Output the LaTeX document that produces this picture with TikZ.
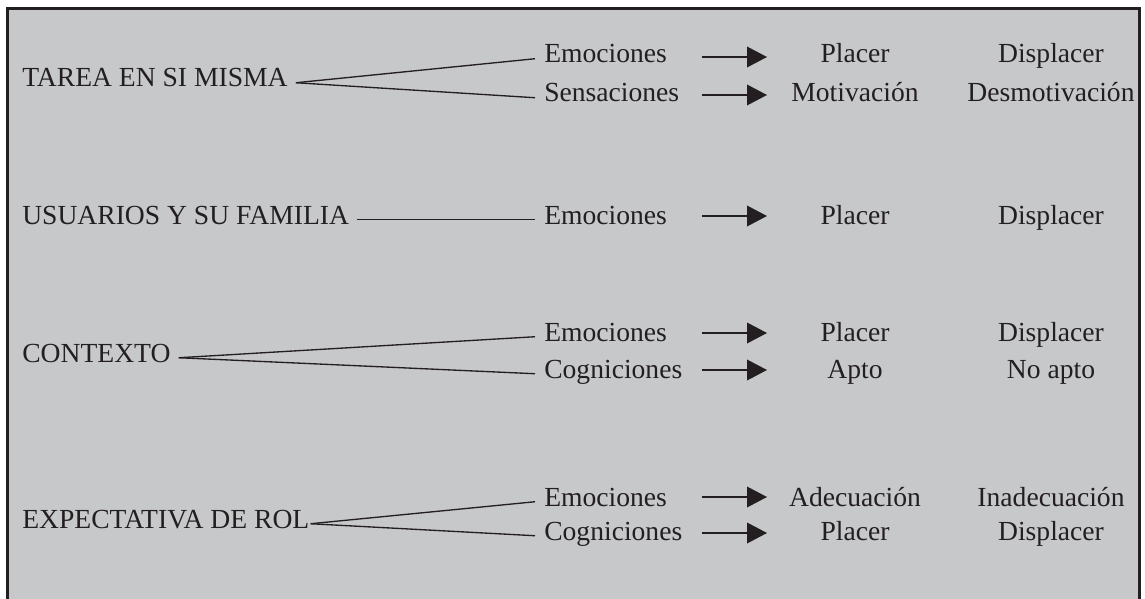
\documentclass[tikz,border=0pt]{standalone}
\usepackage{fontspec}
\setmainfont{Liberation Serif}
\usetikzlibrary{arrows.meta}
\definecolor{ink}{HTML}{231F20}
\definecolor{panel}{RGB}{199,200,202}
\begin{document}
\begin{tikzpicture}[x=0.75pt,y=-0.75pt,
  every node/.style={inner sep=0pt, text=ink, font=\fontsize{20.7}{24}\selectfont, text height=0.64em, text depth=0pt},
  lefttxt/.style={anchor=base west, inner xsep=6pt},
  midtxt/.style={anchor=base west, inner xsep=6.75pt},
  coltxt/.style={anchor=base},
  fan/.style={draw=ink, line width=1pt},
  arr/.style={draw=ink, line width=1.1pt, -{Triangle[length=15pt,width=15.5pt]}}
]
\useasboundingbox (0,0) rectangle (1145,599);
\fill[white] (0,0) rectangle (1145,599);
\fill[panel] (7,9) rectangle (1139,599);
\draw[ink, line width=2.25pt] (7,599) -- (7,9) -- (1139,9) -- (1139,599);

% Row 1
\node[lefttxt] (tarea) at (14,87) {TAREA EN SI MISMA};
\node[midtxt] (emo1) at (535,63) {Emociones};
\node[midtxt] (sen1) at (535,102) {Sensaciones};
\node[coltxt] (pla1) at (855,63) {Placer};
\node[coltxt] (dis1) at (1051,63) {Displacer};
\node[coltxt] (mot1) at (855,102) {Motivación};
\node[coltxt] (des1) at (1051,102) {Desmotivación};
\draw[fan] (tarea.east) -- (emo1.west);
\draw[fan] (tarea.east) -- (sen1.west);
\coordinate (s1a) at (702,57); \coordinate (e1a) at (767,57);
\coordinate (s1b) at (702,95); \coordinate (e1b) at (767,95);
\draw[arr] (s1a) -- (e1a);
\draw[arr] (s1b) -- (e1b);

% Row 2
\node[lefttxt] (usu) at (14,224) {USUARIOS Y SU FAMILIA};
\node[midtxt] (emo2) at (535,224) {Emociones};
\node[coltxt] (pla2) at (855,224) {Placer};
\node[coltxt] (dis2) at (1051,224) {Displacer};
\draw[fan] (usu.east) -- (emo2.west);
\coordinate (s2) at (702,216); \coordinate (e2) at (767,216);
\draw[arr] (s2) -- (e2);

% Row 3
\node[lefttxt] (ctx) at (14,362) {CONTEXTO};
\node[midtxt] (emo3) at (535,341) {Emociones};
\node[midtxt] (cog3) at (535,378) {Cogniciones};
\node[coltxt] (pla3) at (855,341) {Placer};
\node[coltxt] (dis3) at (1051,341) {Displacer};
\node[coltxt] (apt3) at (855,378) {Apto};
\node[coltxt] (noa3) at (1051,378) {No apto};
\draw[fan] (ctx.east) -- (emo3.west);
\draw[fan] (ctx.east) -- (cog3.west);
\coordinate (s3a) at (702,333); \coordinate (e3a) at (767,333);
\coordinate (s3b) at (702,370); \coordinate (e3b) at (767,370);
\draw[arr] (s3a) -- (e3a);
\draw[arr] (s3b) -- (e3b);

% Row 4
\node[anchor=base west, inner xsep=0.75pt] (exp) at (21,528) {EXPECTATIVA DE ROL};
\node[midtxt] (emo4) at (535,506) {Emociones};
\node[midtxt] (cog4) at (535,540) {Cogniciones};
\node[coltxt] (ade4) at (855,506) {Adecuación};
\node[coltxt] (ina4) at (1051,506) {Inadecuación};
\node[coltxt] (pla4) at (855,540) {Placer};
\node[coltxt] (dis4) at (1051,540) {Displacer};
\draw[fan] (exp.east) -- (emo4.west);
\draw[fan] (exp.east) -- (cog4.west);
\coordinate (s4a) at (702,497); \coordinate (e4a) at (767,497);
\coordinate (s4b) at (702,533); \coordinate (e4b) at (767,533);
\draw[arr] (s4a) -- (e4a);
\draw[arr] (s4b) -- (e4b);
\end{tikzpicture}
\end{document}
